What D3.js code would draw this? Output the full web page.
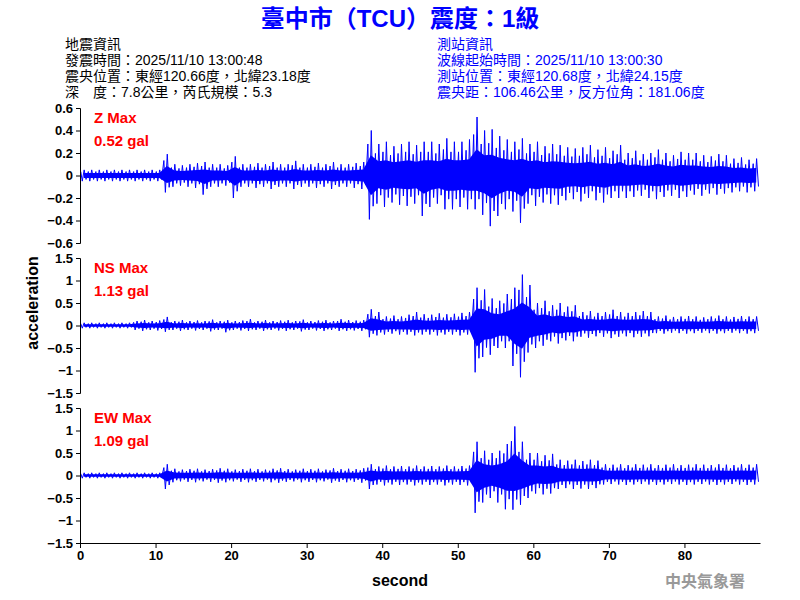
<!DOCTYPE html>
<html><head><meta charset="utf-8">
<script src="https://cdn.jsdelivr.net/npm/d3@7"></script>
<style>body{margin:0;background:#fff}</style>
</head><body><div id="chart"></div>
<script>
// per-second peak envelope (gal)
let seconds = d3.range(90);
let z_up = [.05,.05,.05,.05,.05,.05,.05,.05,.05,.05,.05,.19,
 .1,.09,.1,.11,.12,.1,.1,.09,.17,.1,.1,.11,.1,.12,.1,.1,.13,.1,.1,.11,.1,.12,.1,.1,.11,.12,
 .4,.28,.3,.26,.28,.3,.27,.3,.3,.28,.33,.3,.3,.32,.52,.4,.41,.35,.32,.3,.33,
 .28,.3,.26,.28,.27,.25,.24,.25,.27,.23,.25,.22,.27,.2,.22,.19,.2,.23,.2,.18,.21,.2,
 .2,.18,.17,.19,.18,.15,.16,.14,.15];
let z_lo = [-.05,-.05,-.05,-.05,-.05,-.05,-.05,-.05,-.05,-.05,-.05,-.15,
 -.1,-.09,-.1,-.11,-.17,-.1,-.1,-.09,-.2,-.1,-.1,-.11,-.1,-.12,-.1,-.1,-.12,-.1,-.1,-.11,-.1,-.12,-.1,-.1,-.11,-.12,
 -.39,-.25,-.28,-.24,-.26,-.27,-.25,-.36,-.28,-.25,-.3,-.3,-.28,-.3,-.3,-.35,-.45,-.36,-.3,-.32,-.42,
 -.25,-.27,-.24,-.25,-.26,-.22,-.21,-.23,-.2,-.22,-.24,-.2,-.2,-.2,-.19,-.18,-.2,-.21,-.19,-.18,-.2,-.19,
 -.17,-.18,-.16,-.17,-.16,-.15,-.14,-.15,-.14];
let ns_up = [.06,.06,.06,.06,.06,.06,.06,
 .1,.12,.1,.11,.19,.1,.12,.1,.11,.1,.13,.1,.12,.1,.11,.14,.1,.12,.1,.11,.12,.1,.13,.1,.11,.12,.1,.14,.12,.11,.12,
 .36,.3,.2,.22,.2,.24,.3,.25,.24,.27,.25,.26,.28,.3,
 .84,.8,.6,.55,.7,.84,1.13,.9,.5,.55,.45,.5,.42,.45,
 .3,.32,.28,.3,.35,.3,.28,.3,.32,.3,
 .2,.22,.19,.2,.21,.2,.18,.2,.22,.2,.19,.21,.2,.2];
let ns_lo = [-.06,-.06,-.06,-.06,-.06,-.06,-.06,
 -.1,-.12,-.1,-.11,-.14,-.1,-.12,-.1,-.11,-.1,-.13,-.1,-.15,-.1,-.11,-.12,-.1,-.12,-.1,-.11,-.12,-.1,-.13,-.1,-.11,-.12,-.1,-.12,-.12,-.11,-.12,
 -.26,-.22,-.2,-.18,-.2,-.2,-.22,-.2,-.2,-.22,-.2,-.2,-.22,-.2,
 -1.04,-.7,-.65,-.5,-.5,-.9,-1.15,-.6,-.5,-.45,-.35,-.4,-.33,-.35,
 -.25,-.27,-.24,-.25,-.28,-.25,-.24,-.26,-.25,-.24,
 -.17,-.18,-.16,-.17,-.18,-.17,-.16,-.17,-.18,-.17,-.16,-.17,-.18,-.17];
let ew_up = [.06,.06,.06,.06,.06,.06,.06,.06,.06,.06,.06,.25,
 .15,.13,.14,.15,.13,.14,.16,.15,.13,.14,.15,.14,.13,.15,.16,.14,.13,.15,.14,.15,.13,.16,.14,.15,.14,.16,
 .25,.2,.22,.2,.21,.2,.22,.2,.21,.2,.22,.2,.21,.22,
 .75,.55,.5,.55,.7,1.09,.75,.5,.5,.45,.48,.35,.33,.35,.32,.35,.33,
 .25,.24,.25,.23,.25,.24,.25,.23,.24,.25,.23,.24,.25,.24,.23,.25,.24,.23,.25,.24,.25];
let ew_lo = [-.06,-.06,-.06,-.06,-.06,-.06,-.06,-.06,-.06,-.06,-.06,-.3,
 -.15,-.13,-.14,-.15,-.13,-.14,-.16,-.15,-.13,-.14,-.15,-.14,-.13,-.15,-.16,-.14,-.13,-.15,-.14,-.15,-.13,-.16,-.14,-.15,-.14,-.16,
 -.3,-.2,-.22,-.2,-.21,-.2,-.22,-.2,-.21,-.2,-.22,-.2,-.21,-.22,
 -.83,-.6,-.5,-.6,-.75,-.76,-.65,-.5,-.4,-.42,-.4,-.3,-.28,-.3,-.29,-.3,-.28,
 -.2,-.19,-.2,-.21,-.2,-.19,-.2,-.21,-.2,-.19,-.2,-.21,-.2,-.19,-.2,-.21,-.2,-.19,-.2,-.21,-.2];

let panels = [
  {name: "Z Max", peak: "0.52 gal", up: z_up, lo: z_lo, lim: 0.6, ticks: [-0.6,-0.4,-0.2,0,0.2,0.4,0.6], top: 108},
  {name: "NS Max", peak: "1.13 gal", up: ns_up, lo: ns_lo, lim: 1.5, ticks: [-1.5,-1,-0.5,0,0.5,1,1.5], top: 258},
  {name: "EW Max", peak: "1.09 gal", up: ew_up, lo: ew_lo, lim: 1.5, ticks: [-1.5,-1,-0.5,0,0.5,1,1.5], top: 408}
];
let x_ticks = [0,10,20,30,40,50,60,70,80];
let info_left = ["地震資訊","發震時間：2025/11/10 13:00:48","震央位置：東經120.66度，北緯23.18度","深　度：7.8公里，芮氏規模：5.3"];
let info_right = ["測站資訊","波線起始時間：2025/11/10 13:00:30","測站位置：東經120.68度，北緯24.15度","震央距：106.46公里，反方位角：181.06度"];

let W = 800, H = 600, PH = 135;
let BAND = 0.45; // dense band relative to peaks
const svg = d3.select("#chart").append("svg").attr("width", W).attr("height", H)
  .style("font-family", "Arial, 'Liberation Sans', 'Noto Sans CJK TC', sans-serif");

const xScale = d3.scaleLinear().domain([0, 90]).range([80, 760]);

svg.append("text").attr("x", 400).attr("y", 27).attr("text-anchor", "middle")
  .attr("fill", "#0000ff").attr("font-size", 24).attr("font-weight", "bold")
  .text("臺中市（TCU）震度：1級");
info_left.forEach((t, i) => svg.append("text").attr("x", 65).attr("y", 49 + i*16)
  .attr("font-size", 14).attr("fill", "#000").text(t));
info_right.forEach((t, i) => svg.append("text").attr("x", 437).attr("y", 49 + i*16)
  .attr("font-size", 14).attr("fill", "#0000ff").text(t));

panels.forEach(p => {
  const y = d3.scaleLinear().domain([-p.lim, p.lim]).range([p.top + PH, p.top]);
  const area = d3.area().x(d => xScale(d + 0.5))
    .y0(d => y(p.lo[d] * BAND)).y1(d => y(p.up[d] * BAND));
  svg.append("path").datum(seconds).attr("d", area).attr("fill", "#0000ff");
  const zig = d3.line().x(d => xScale(d[0])).y(d => y(d[1]));
  const pts = seconds.flatMap(s => [[s + 0.1, p.up[s] * 0.7], [s + 0.3, p.lo[s]],
    [s + 0.55, p.up[s]], [s + 0.8, p.lo[s] * 0.7]]);
  svg.append("path").datum(pts).attr("d", zig).attr("fill", "none")
    .attr("stroke", "#0000ff").attr("stroke-width", 1);
  const ax = svg.append("g").attr("transform", "translate(80,0)")
    .call(d3.axisLeft(y).tickValues(p.ticks).tickSize(4).tickFormat(d3.format("")));
  ax.selectAll("text").attr("font-size", 13).attr("font-weight", "bold").attr("fill", "#000");
  ax.selectAll("path,line").attr("stroke", "#000");
  svg.append("text").attr("x", 94).attr("y", p.top + 15).attr("fill", "#ff0000")
    .attr("font-size", 15).attr("font-weight", "bold").text(p.name);
  svg.append("text").attr("x", 94).attr("y", p.top + 38).attr("fill", "#ff0000")
    .attr("font-size", 15).attr("font-weight", "bold").text(p.peak);
});

const xa = svg.append("g").attr("transform", "translate(0,543)")
  .call(d3.axisBottom(xScale).tickValues(x_ticks).tickSize(5).tickSizeOuter(0));
xa.selectAll("text").attr("font-size", 13).attr("font-weight", "bold").attr("fill", "#000");
xa.selectAll("path,line").attr("stroke", "#000");

svg.append("text").attr("x", 400).attr("y", 586).attr("text-anchor", "middle")
  .attr("font-size", 16).attr("font-weight", "bold").text("second");
svg.append("text").attr("transform", "translate(38,303) rotate(-90)").attr("text-anchor", "middle")
  .attr("font-size", 16).attr("font-weight", "bold").text("acceleration");
svg.append("text").attr("x", 745).attr("y", 587).attr("text-anchor", "end")
  .attr("font-size", 16).attr("font-weight", "bold").attr("fill", "#999").text("中央氣象署");
</script></body></html>
